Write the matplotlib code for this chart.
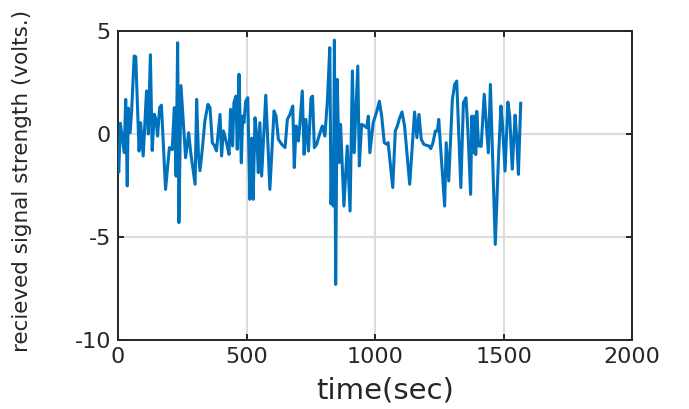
import matplotlib
matplotlib.use("Agg")
import matplotlib.pyplot as plt

# time (s) and received signal strength (V)
time_sec = [0, 3, 9, 24, 30, 36, 40, 47, 53, 63, 69, 82, 88, 98, 111, 118, 126, 133, 141, 148,
            154, 162, 169, 185, 200, 211, 219, 226, 232, 237, 245, 263, 275, 283, 292, 300, 306,
            313, 319, 328, 338, 350, 358, 367, 376, 383, 390, 397, 403, 410, 416, 425, 432, 438,
            446, 451, 459, 464, 471, 475, 480, 485, 490, 497, 505, 513, 520, 526, 533, 540, 546,
            552, 559, 575, 591, 607, 615, 624, 637, 650, 659, 669, 680, 686, 693, 702, 708, 717,
            724, 731, 741, 751, 757, 764, 773, 786, 795, 805, 815, 824, 829, 833, 838, 842, 847,
            853, 860, 866, 879, 892, 903, 912, 919, 933, 939, 948, 958, 968, 974, 980, 993, 1007,
            1017, 1026, 1036, 1046, 1051, 1069, 1079, 1087, 1095, 1105, 1115, 1135, 1154, 1163,
            1171, 1180, 1190, 1200, 1210, 1217, 1225, 1235, 1243, 1248, 1254, 1271, 1277, 1287,
            1301, 1310, 1318, 1334, 1344, 1354, 1362, 1372, 1377, 1383, 1388, 1392, 1396, 1403,
            1413, 1425, 1441, 1449, 1468, 1480, 1490, 1496, 1506, 1517, 1524, 1534, 1545, 1551,
            1558, 1567]
signal_volts = [-1.5, -1.85, 0.52, -0.9, 1.68, -2.52, 1.26, 0.06, 1.1, 3.79, 3.75, -0.83, 0.55,
                -1.07, 2.09, 0.0, 3.85, -0.8, 0.96, 0.7, -0.1, 1.28, 1.4, -2.69, -0.66, -0.76,
                1.28, -2.05, 4.43, -4.3, 2.35, -1.15, 0.06, -0.91, -1.72, -2.44, 1.68, -1.0,
                -1.78, -0.74, 0.63, 1.44, 1.28, -0.42, -0.58, -0.82, 0.06, 0.95, -1.07, 0.15,
                -0.1, -0.58, -0.99, 1.2, -0.58, 1.52, 1.84, -0.74, 2.9, 0.71, -1.4, 0.87, 0.55,
                1.6, 1.76, -3.17, -0.2, -3.17, 0.79, -0.1, -1.88, 0.55, -2.04, 1.88, -2.69, 1.12,
                0.87, -0.26, -0.5, -0.66, 0.71, 0.95, 1.36, -1.63, 0.39, -0.34, 0.55, 2.09, -0.99,
                0.71, -0.83, 1.76, 1.84, -0.66, -0.5, 0.06, 0.39, -0.1, 1.68, 4.19, -3.4, -0.7,
                -3.5, 4.56, -7.3, 2.65, -1.39, 0.47, -3.5, -0.58, -3.74, 3.06, -0.91, 3.3, -1.55,
                0.47, 0.4, 0.3, 0.87, -0.91, 0.55, 1.1, 1.59, 0.87, -0.42, -0.5, -0.42, -2.6,
                0.15, 0.39, 0.75, 1.07, 0.39, -2.44, 1.07, -0.18, 0.95, -0.26, -0.5, -0.55,
                -0.58, -0.71, -0.45, 0.15, 0.15, 0.71, -0.42, -3.5, -0.42, -2.28, 1.68, 2.41,
                2.57, -2.6, 1.52, 1.76, 0.06, -2.93, 0.87, -0.91, 0.87, -1.0, 1.1, -0.58, -0.6,
                1.93, -0.91, 2.41, -5.36, -1.31, 1.36, 0.5, -1.8, 1.55, 0.9, -1.71, 0.91, -0.1,
                -1.96, 1.49]

x_ticks = [0, 500, 1000, 1500, 2000]
y_ticks = [-10, -5, 0, 5]
x_label = "time(sec)"
y_label = "recieved signal strength (volts.)"

plt.rcParams['font.family'] = ['DejaVu Sans']
dark = '#262626'

fig = plt.figure(figsize=(6.89, 4.09), dpi=100)
ax = fig.add_axes([118 / 689, 1 - 340 / 409, 514 / 689, 309 / 409])

ax.plot(time_sec, signal_volts, color='#0072BD', lw=2.2, solid_joinstyle='round', zorder=3)

ax.set_xlim(0, 2000)
ax.set_ylim(-10, 5)
ax.set_xticks(x_ticks)
ax.set_yticks(y_ticks)
ax.set_xticklabels([str(v) for v in x_ticks])
ax.set_yticklabels([str(v) for v in y_ticks])

ax.grid(True, color='#dcdcdc', lw=1.5, zorder=0)
ax.set_axisbelow(True)

for s in ax.spines.values():
    s.set_color(dark)
    s.set_linewidth(1.4)

ax.tick_params(direction='in', top=True, right=True, length=4, width=1.4, color=dark,
               labelcolor=dark, labelsize=16)
ax.tick_params(axis='x', pad=5)
ax.tick_params(axis='y', pad=5)

ax.set_xlabel(x_label, fontsize=21, color=dark, va='center')
ax.xaxis.set_label_coords((385 - 118) / 514, (340 - 390) / 309)
ax.set_ylabel(y_label, fontsize=15.5, color=dark, va='center')
ax.yaxis.set_label_coords((22 - 118) / 514, (340 - 181) / 309)

fig.savefig('out.png', dpi=100)
